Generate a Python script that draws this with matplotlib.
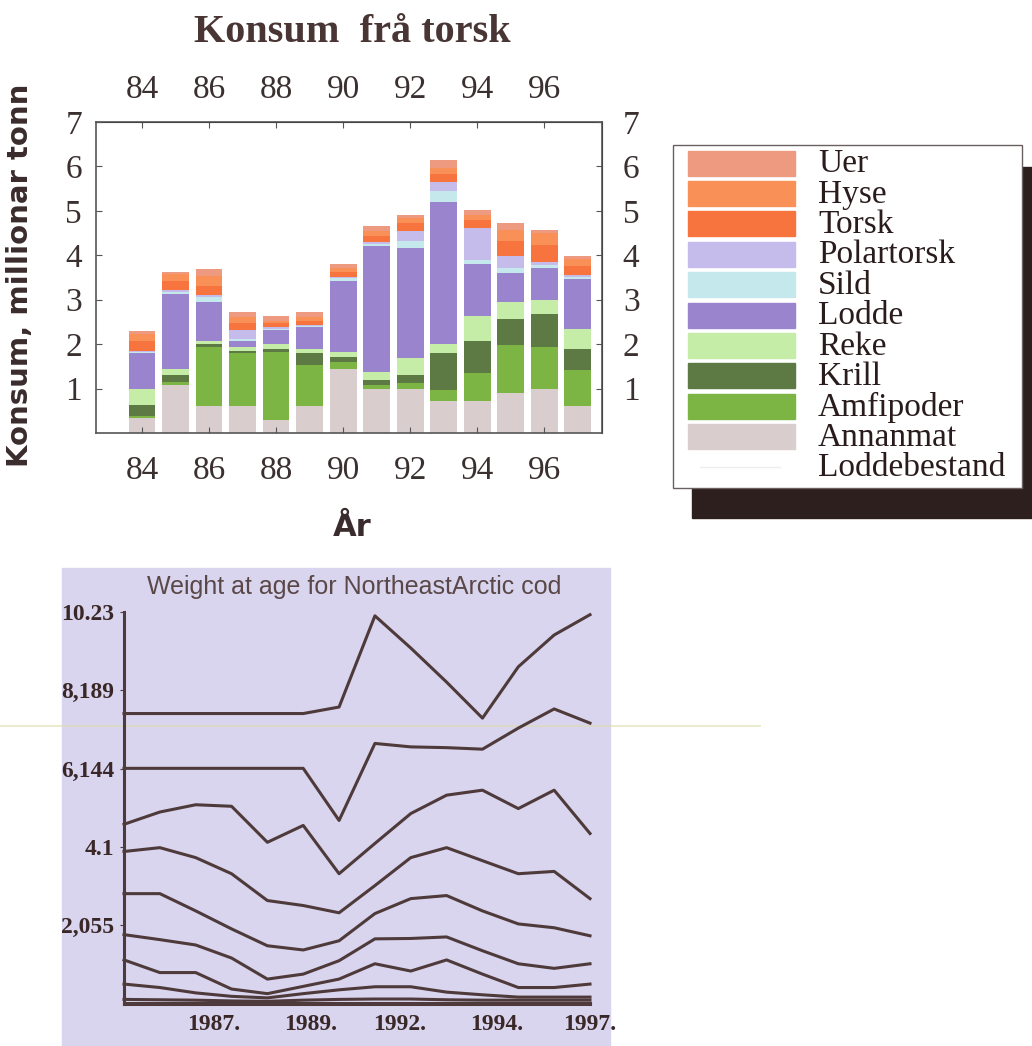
import matplotlib
matplotlib.use("Agg")
import matplotlib.pyplot as plt
import numpy as np
from matplotlib.patches import Rectangle

plt.rcParams["font.family"] = ["Liberation Serif", "DejaVu Serif"]

# ---- data: Konsum frå torsk (millionar tonn), stacked bottom -> top
years = [84, 85, 86, 87, 88, 89, 90, 91, 92, 93, 94, 95, 96, 97]
annanmat = [0.34, 1.08, 0.60, 0.60, 0.30, 0.60, 1.45, 0.98, 1.00, 0.71, 0.71, 0.91, 0.98, 0.61]
amfipoder = [0.05, 0.07, 1.34, 1.19, 1.52, 0.93, 0.15, 0.10, 0.12, 0.26, 0.63, 1.06, 0.96, 0.80]
krill = [0.24, 0.15, 0.06, 0.05, 0.06, 0.26, 0.11, 0.11, 0.18, 0.82, 0.74, 0.60, 0.74, 0.49]
reke = [0.37, 0.15, 0.08, 0.10, 0.13, 0.09, 0.11, 0.19, 0.38, 0.22, 0.56, 0.37, 0.31, 0.45]
lodde = [0.79, 1.68, 0.86, 0.14, 0.30, 0.50, 1.61, 2.83, 2.49, 3.20, 1.16, 0.67, 0.73, 1.11]
sild = [0.03, 0.04, 0.11, 0.03, 0.04, 0.02, 0.05, 0.04, 0.15, 0.23, 0.10, 0.10, 0.07, 0.05]
polartorsk = [0.03, 0.04, 0.05, 0.20, 0.04, 0.02, 0.03, 0.04, 0.22, 0.22, 0.72, 0.27, 0.05, 0.04]
torsk = [0.22, 0.20, 0.20, 0.17, 0.08, 0.10, 0.12, 0.15, 0.18, 0.18, 0.17, 0.35, 0.40, 0.21]
hyse = [0.16, 0.16, 0.24, 0.12, 0.06, 0.08, 0.09, 0.10, 0.12, 0.12, 0.12, 0.25, 0.26, 0.15]
uer = [0.07, 0.05, 0.15, 0.12, 0.11, 0.12, 0.08, 0.11, 0.07, 0.18, 0.12, 0.15, 0.08, 0.07]

layer_names = ["Annanmat", "Amfipoder", "Krill", "Reke", "Lodde", "Sild",
               "Polartorsk", "Torsk", "Hyse", "Uer"]
layer_values = [annanmat, amfipoder, krill, reke, lodde, sild, polartorsk, torsk, hyse, uer]
layer_colors = ["#D9CDCD", "#7CB544", "#5D7A45", "#C5EDA8", "#9B84CE", "#C4E8EC",
                "#C5BCEC", "#F7743E", "#F89058", "#EE9A80"]

top_xticks = [84, 86, 88, 90, 92, 94, 96]
top_yticks = [1, 2, 3, 4, 5, 6, 7]

# ---- data: weight at age for Northeast Arctic cod (kg)
cod_years = [1984, 1985, 1986, 1987, 1988, 1989, 1990, 1991, 1992, 1993, 1994, 1995, 1996, 1997]
w_age1 = [7.58, 7.58, 7.58, 7.58, 7.58, 7.58, 7.75, 10.13, 9.29, 8.40, 7.46, 8.80, 9.63, 10.16]
w_age2 = [6.15, 6.15, 6.15, 6.15, 6.15, 6.15, 4.79, 6.80, 6.71, 6.69, 6.65, 7.20, 7.70, 7.33]
w_age3 = [4.69, 5.01, 5.20, 5.16, 4.22, 4.66, 3.40, 4.19, 4.97, 5.45, 5.58, 5.10, 5.58, 4.45]
w_age4 = [3.98, 4.08, 3.82, 3.40, 2.70, 2.57, 2.38, 3.09, 3.82, 4.08, 3.74, 3.40, 3.46, 2.75]
w_age5 = [2.88, 2.88, 2.43, 1.96, 1.52, 1.41, 1.65, 2.36, 2.75, 2.83, 2.43, 2.09, 1.99, 1.78]
w_age6 = [1.81, 1.68, 1.54, 1.20, 0.65, 0.78, 1.13, 1.70, 1.71, 1.75, 1.39, 1.05, 0.93, 1.05]
w_age7 = [1.15, 0.82, 0.82, 0.39, 0.27, 0.46, 0.65, 1.05, 0.86, 1.15, 0.78, 0.43, 0.43, 0.52]
w_age8 = [0.52, 0.43, 0.29, 0.20, 0.16, 0.27, 0.37, 0.45, 0.45, 0.31, 0.24, 0.18, 0.18, 0.18]
w_age9 = [0.12, 0.11, 0.10, 0.08, 0.07, 0.10, 0.12, 0.13, 0.13, 0.11, 0.10, 0.10, 0.10, 0.10]
w_age10 = [0.03, 0.03, 0.03, 0.03, 0.03, 0.03, 0.03, 0.03, 0.03, 0.03, 0.03, 0.03, 0.03, 0.03]
cod_series = [w_age1, w_age2, w_age3, w_age4, w_age5, w_age6, w_age7, w_age8, w_age9, w_age10]

cod_yticks = [2.055, 4.1, 6.144, 8.189, 10.23]
cod_yticklabels = ["2,055", "4.1", "6,144", "8,189", "10.23"]
cod_xticks = [1986.5, 1989.2, 1991.7, 1994.4, 1997.0]
cod_xticklabels = ["1987.", "1989.", "1992.", "1994.", "1997."]

legend_names = ["Uer", "Hyse", "Torsk", "Polartorsk", "Sild", "Lodde", "Reke",
                "Krill", "Amfipoder", "Annanmat", "Loddebestand"]

W, H = 1032, 1046
fig = plt.figure(figsize=(W / 100, H / 100), dpi=100)
fig.patch.set_facecolor("white")


def fx(px):
    return px / W


def fy(py):
    return 1 - py / H


# background layer in pixel coordinates (panel, scan line, legend)
bg = fig.add_axes([0, 0, 1, 1], zorder=-5)
bg.set_xlim(0, W)
bg.set_ylim(H, 0)
bg.axis("off")
bg.add_patch(Rectangle((62, 568), 548, 480, color="#D9D5EE"))
bg.plot([0, 760], [726, 726], color="#DCDCA8", lw=1.3, alpha=0.6)

# legend with drop shadow
bg.add_patch(Rectangle((692, 167), 345, 351, color="#2E1F1F"))
bg.add_patch(Rectangle((673, 145), 349, 343, facecolor="white", edgecolor="#6a6060", lw=1))
color_of = dict(zip(layer_names, layer_colors))
for i, name in enumerate(legend_names):
    yc = 163 + i * 30.4
    if name in color_of:
        bg.add_patch(Rectangle((688, yc - 12.5), 107, 25, color=color_of[name]))
    else:
        bg.plot([700, 780], [yc, yc], color="#eeeeee", lw=1)
    bg.text(818, yc + 1, name, fontsize=24, va="center", ha="left", color="#2a1c1c")

# ---- top chart
ax = fig.add_axes([fx(96), fy(433), 506 / W, 311 / H])
bottom = np.zeros(len(years))
for name, vals, col in zip(layer_names, layer_values, layer_colors):
    ax.bar(years, vals, bottom=bottom, width=0.8, color=col, linewidth=0)
    bottom += np.array(vals)

ax.set_xlim(82.63, 97.72)
ax.set_ylim(0, 7)
ax.set_xticks(top_xticks)
ax.set_xticklabels([str(v) for v in top_xticks])
ax.set_yticks(top_yticks)
ax.set_yticklabels([str(v) for v in top_yticks])
ax.tick_params(axis="both", direction="in", length=4, width=0.8, color="#555555",
               labelsize=24, labelcolor="#3b3030")
ax.tick_params(axis="x", pad=16)
ax.tick_params(axis="y", pad=10)
for s in ax.spines.values():
    s.set_color("#555555")
    s.set_linewidth(1.2)

secx = ax.secondary_xaxis("top")
secx.set_xticks(top_xticks)
secx.set_xticklabels([str(v) for v in top_xticks])
secx.tick_params(direction="in", length=4, color="#555555", labelsize=24,
                 labelcolor="#3b3030", pad=12)
secy = ax.secondary_yaxis("right")
secy.set_yticks(top_yticks)
secy.set_yticklabels([str(v) for v in top_yticks])
secy.tick_params(direction="in", length=4, color="#555555", labelsize=24,
                 labelcolor="#3b3030", pad=15)

fig.text(fx(352), fy(33), "Konsum  frå torsk", fontsize=29, fontweight="bold",
         ha="center", va="center", color="#4a3535")
fig.text(fx(20), fy(275), "Konsum, millionar tonn", rotation=90, fontsize=21,
         fontweight="bold", family=["DejaVu Sans"],
         ha="center", va="center", color="#3a2c2c")
fig.text(fx(352), fy(527), "År", fontsize=22, fontweight="bold",
         family=["DejaVu Sans"], ha="center", va="center",
         color="#3a2c2c")

# ---- bottom chart
ax2 = fig.add_axes([fx(124), fy(1004), 466 / W, 392 / H])
ax2.set_facecolor("none")
for s in cod_series:
    ax2.plot(cod_years, s, color="#4E3A3A", lw=2.2, clip_on=False)
ax2.set_xlim(1984, 1997)
ax2.set_ylim(0, 10.23)
ax2.spines["top"].set_visible(False)
ax2.spines["right"].set_visible(False)
for side in ["left", "bottom"]:
    ax2.spines[side].set_color("#4E3A3A")
    ax2.spines[side].set_linewidth(2.2)
ax2.set_yticks(cod_yticks)
ax2.set_yticklabels(cod_yticklabels, fontweight="bold")
ax2.set_xticks(cod_xticks)
ax2.set_xticklabels(cod_xticklabels, fontweight="bold")
ax2.tick_params(axis="y", direction="out", length=3, color="#4E3A3A", labelsize=17,
                labelcolor="#3a2828", pad=4)
ax2.tick_params(axis="x", length=0, labelsize=17, labelcolor="#3a2828", pad=7)

fig.text(fx(354), fy(587), "Weight at age for NortheastArctic cod", fontsize=18,
         family=["Liberation Sans Narrow", "Liberation Sans", "DejaVu Sans"],
         ha="center", va="center", color="#5a4848")

fig.savefig("out.png", dpi=100, facecolor="white")
